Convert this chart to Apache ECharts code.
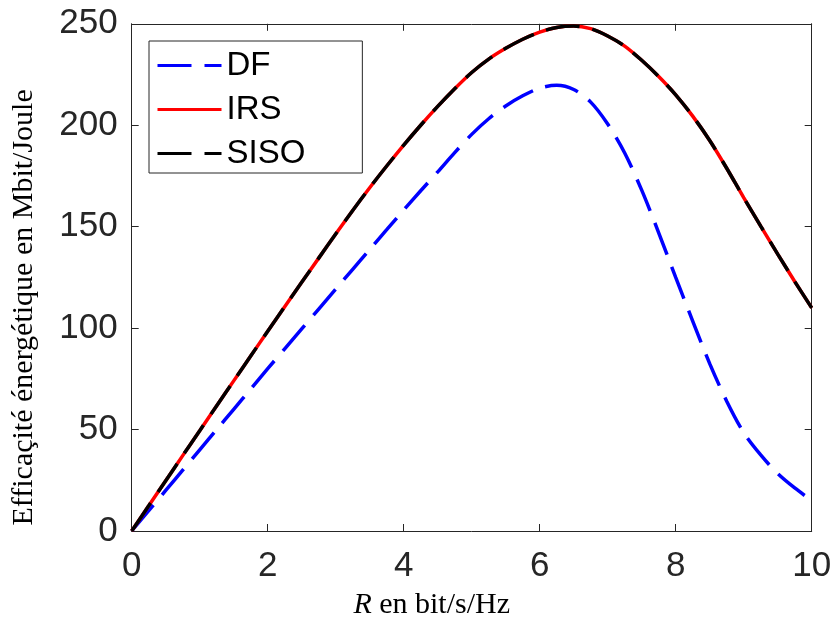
<!DOCTYPE html>
<html>
<head>
<meta charset="utf-8">
<script src="https://cdn.jsdelivr.net/npm/echarts@6/dist/echarts.min.js"></script>
<style>
  html, body { margin: 0; padding: 0; background: #fff; }
  #chart { width: 836px; height: 625px; }
</style>
</head>
<body>
<div id="chart"></div>
<script>
// R en bit/s/Hz
var rValues = [0, 0.25, 0.5, 0.75, 1, 1.25, 1.5, 1.75, 2, 2.25, 2.5, 2.75, 3, 3.25, 3.5, 3.75,
               4, 4.25, 4.5, 4.75, 5, 5.25, 5.5, 5.75, 6, 6.25, 6.5, 6.75, 7, 7.25, 7.5, 7.75,
               8, 8.25, 8.5, 8.75, 9, 9.25, 9.5, 9.75, 10];

// efficacite energetique (Mbit/Joule)
var dfValues = [0, 10, 20, 30, 40, 50, 60, 70, 80, 89.8, 99.6, 109.4, 119.2, 129, 138.8, 148.5,
                158.2, 167.7, 177, 186.5, 195.5, 203.2, 209.5, 214.5, 218.3, 219.7, 217.6, 211.4, 200.6, 186.3, 168, 147,
                125, 103.5, 82.5, 64, 48.5, 37.5, 28.3, 21.2, 15];
var sisoValues = [0, 12.4, 24.8, 37.15, 49.45, 61.75, 74, 86.25, 98.45, 110.55, 122.55, 134.5, 146.4, 158, 169.2, 179.9,
                  190.2, 200, 209.3, 218, 226, 232.6, 237.9, 242.4, 245.9, 248.2, 248.9, 247.6, 244, 239, 232, 224,
                  215, 204.5, 192.5, 178.8, 164.3, 150.3, 136.5, 123, 110];
var irsValues = sisoValues.slice(); // IRS et SISO confondues

var xTicks = [0, 10, 2];     // min, max, pas
var yTicks = [0, 250, 50];

var seriesNames = ['DF', 'IRS', 'SISO'];

function pairs(xs, ys) {
    var res = [];
    for (var i = 0; i < xs.length; i++) {
        res.push([xs[i], ys[i]]);
    }
    return res;
}

var axisColor = '#262626';
var dash = [34, 13];

var chart = echarts.init(document.getElementById('chart'));

var boxAxis = {
    axisLine: { show: true, onZero: false, lineStyle: { color: axisColor, width: 1 } },
    axisTick: { show: true, inside: true, length: 7, lineStyle: { color: axisColor } },
    splitLine: { show: false }
};

chart.setOption({
    animation: false,
    backgroundColor: '#fff',
    grid: { left: 131.7, right: 24.3, top: 23.8, bottom: 92.7 },
    legend: {
        data: seriesNames,
        left: 149,
        top: 41,
        orient: 'vertical',
        itemWidth: 64,
        itemHeight: 14,
        itemGap: 11,
        padding: [8, 57, 3, 7],
        borderColor: axisColor,
        borderWidth: 1,
        backgroundColor: '#fff',
        itemStyle: { color: 'rgba(0,0,0,0)', borderWidth: 0, opacity: 0 },
        lineStyle: { width: 3 },
        textStyle: { fontFamily: 'Liberation Sans', fontSize: 33, lineHeight: 33, color: '#000' }
    },
    xAxis: [
        Object.assign({
            type: 'value', position: 'bottom',
            min: xTicks[0], max: xTicks[1], interval: xTicks[2],
            axisLabel: { fontFamily: 'Liberation Sans', fontSize: 35, color: axisColor, margin: 18 },
            name: '{it|R} en bit/s/Hz',
            nameLocation: 'middle',
            nameGap: 59,
            nameTextStyle: {
                fontFamily: 'Liberation Serif', fontSize: 30, color: '#000',
                padding: [0, 80, 0, 0],
                rich: { it: { fontFamily: 'Liberation Serif', fontStyle: 'italic', fontSize: 30, color: '#000' } }
            }
        }, boxAxis),
        Object.assign({
            type: 'value', position: 'top',
            min: xTicks[0], max: xTicks[1], interval: xTicks[2],
            axisLabel: { show: false }
        }, boxAxis)
    ],
    yAxis: [
        Object.assign({
            type: 'value', position: 'left',
            min: yTicks[0], max: yTicks[1], interval: yTicks[2],
            axisLabel: { fontFamily: 'Liberation Sans', fontSize: 35, color: axisColor, margin: 14 },
            name: 'Efficaçité énergétique en Mbit/Joule',
            nameLocation: 'middle',
            nameGap: 93,
            nameTextStyle: {
                fontFamily: 'Liberation Serif', fontSize: 30, color: '#000',
                padding: [0, 60, 0, 0]
            }
        }, boxAxis),
        Object.assign({
            type: 'value', position: 'right',
            min: yTicks[0], max: yTicks[1], interval: yTicks[2],
            axisLabel: { show: false }
        }, boxAxis)
    ],
    series: [
        {
            name: 'DF', type: 'line', smooth: 0.3, showSymbol: false, symbol: 'none',
            data: pairs(rValues, dfValues),
            lineStyle: { color: '#0000ff', width: 3.5, type: dash },
            itemStyle: { color: '#0000ff' }
        },
        {
            name: 'IRS', type: 'line', smooth: 0.3, showSymbol: false, symbol: 'none',
            data: pairs(rValues, irsValues),
            lineStyle: { color: '#ff0000', width: 3.5, type: 'solid' },
            itemStyle: { color: '#ff0000' }
        },
        {
            name: 'SISO', type: 'line', smooth: 0.3, showSymbol: false, symbol: 'none',
            data: pairs(rValues, sisoValues),
            lineStyle: { color: '#000000', width: 3.5, type: dash },
            itemStyle: { color: '#000000' }
        }
    ]
});
</script>
</body>
</html>
